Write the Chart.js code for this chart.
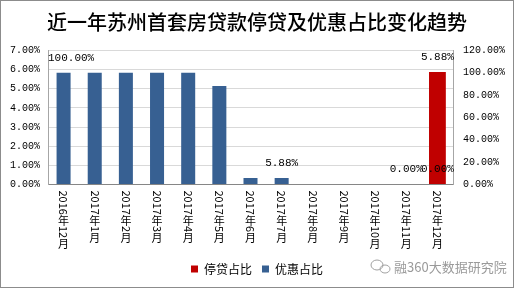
<!DOCTYPE html>
<html>
<head>
<meta charset="utf-8">
<script src="https://cdn.jsdelivr.net/npm/chart.js@4"></script>
<style>body{margin:0;background:#fff}</style>
</head>
<body>
<canvas id="c" width="514" height="288"></canvas>
<script>
const months = ['2016年12月','2017年1月','2017年2月','2017年3月','2017年4月','2017年5月','2017年6月','2017年7月','2017年8月','2017年9月','2017年10月','2017年11月','2017年12月']
// 停贷占比 (left axis)
const stopShare = [null,null,null,null,null,null,null,null,null,null,null,null,5.88]
// 优惠占比 (right axis)
const discountShare = [100,100,100,100,100,88.24,5.88,5.88,0,0,0,0,0]
// which bars carry a value label
const stopLabelAt = [12]
const discountLabelAt = [0,7,11,12]
const leftTicks = [0,1,2,3,4,5,6,7]
const rightTicks = [0,20,40,60,80,100,120]

const monoFont = '"Liberation Mono", "DejaVu Sans Mono", monospace'
const cjkFont = '"Noto Sans CJK SC", sans-serif'

// x labels: digits turned sideways, CJK upright (like the original)
const xLabels = {
  id: 'xLabels',
  afterDraw(chart) {
    const ctx = chart.ctx, xs = chart.scales.x
    ctx.save()
    ctx.fillStyle = '#000'
    ctx.font = '11px ' + cjkFont
    months.forEach((m, i) => {
      let x = xs.getPixelForValue(i), y = chart.chartArea.bottom + 6
      for (const ch of m) {
        if (ch.charCodeAt(0) > 0x2e80) {
          ctx.textAlign = 'center'; ctx.textBaseline = 'top'
          ctx.fillText(ch, x, y)
          y += 11
        } else {
          const w = ctx.measureText(ch).width
          ctx.save()
          ctx.translate(x, y); ctx.rotate(Math.PI / 2)
          ctx.textAlign = 'left'; ctx.textBaseline = 'middle'
          ctx.fillText(ch, 0, 0)
          ctx.restore()
          y += w
        }
      }
    })
    ctx.restore()
  }
}

const barLabels = {
  id: 'barLabels',
  afterDatasetsDraw(chart) {
    const ctx = chart.ctx, a = chart.chartArea
    ctx.save()
    ctx.font = '11px ' + monoFont
    ctx.fillStyle = '#000'
    ctx.textBaseline = 'middle'; ctx.textAlign = 'left'
    chart.data.datasets.forEach((ds, di) => {
      const meta = chart.getDatasetMeta(di)
      ds.labelAt.forEach(i => {
        const bar = meta.data[i]
        const t = ds.data[i].toFixed(2) + '%'
        const w = ctx.measureText(t).width
        const x = Math.max(a.left, bar.x - w / 2)
        ctx.fillText(t, x, bar.y - 15)
      })
    })
    ctx.restore()
  }
}

const frame = {
  id: 'frame',
  afterDraw(chart) {
    const ctx = chart.ctx
    ctx.save()
    // watermark bottom right
    ctx.strokeStyle = '#a0a0a0'; ctx.lineWidth = 1
    ctx.beginPath(); ctx.ellipse(377, 265, 6, 5, 0, 0, Math.PI * 2); ctx.stroke()
    ctx.beginPath(); ctx.ellipse(385, 269, 5, 4, 0, 0, Math.PI * 2); ctx.stroke()
    ctx.fillStyle = '#9a9a9a'
    ctx.font = '13px ' + cjkFont
    ctx.textBaseline = 'middle'; ctx.textAlign = 'left'
    ctx.fillText('融360大数据研究院', 394, 267)
    // outer border
    ctx.strokeStyle = '#8c8c8c'
    ctx.strokeRect(0.5, 0.5, 513, 287)
    ctx.restore()
  }
}

new Chart(document.getElementById('c'), {
  type: 'bar',
  data: {
    labels: months,
    datasets: [{
      label: '停贷占比',
      data: stopShare,
      labelAt: stopLabelAt,
      yAxisID: 'y',
      backgroundColor: '#c00000',
      barPercentage: 0.54,
      categoryPercentage: 1,
      grouped: false
    }, {
      label: '优惠占比',
      data: discountShare,
      labelAt: discountLabelAt,
      yAxisID: 'y1',
      backgroundColor: '#376092',
      barPercentage: 0.45,
      categoryPercentage: 1,
      grouped: false
    }]
  },
  options: {
    responsive: false,
    animation: false,
    layout: { padding: { left: 0, right: 0, top: 0, bottom: 3 } },
    plugins: {
      title: {
        display: true,
        text: '近一年苏州首套房贷款停贷及优惠占比变化趋势',
        color: '#000',
        font: { size: 20, weight: '500', family: cjkFont },
        padding: { top: 10, bottom: 16.5 }
      },
      legend: {
        position: 'bottom',
        labels: {
          boxWidth: 7, boxHeight: 7, padding: 10, color: '#000',
          font: { size: 12, family: cjkFont }
        }
      },
      tooltip: { enabled: false }
    },
    scales: {
      x: {
        ticks: { display: false },
        grid: { display: false },
        border: { color: '#868686' },
        afterFit(s) { s.height = 68.5 }
      },
      y: {
        position: 'left',
        min: 0, max: 7,
        afterBuildTicks(s) { s.ticks = leftTicks.map(v => ({ value: v })) },
        ticks: { color: '#000', padding: 8, font: { size: 10, family: monoFont }, callback: v => v.toFixed(2) + '%' },
        grid: { color: '#d9d9d9', drawTicks: false },
        border: { color: '#a6a6a6' },
        afterFit(s) { s.width = 48 }
      },
      y1: {
        position: 'right',
        min: 0, max: 120,
        afterBuildTicks(s) { s.ticks = rightTicks.map(v => ({ value: v })) },
        ticks: { color: '#000', padding: 10, font: { size: 10, family: monoFont }, callback: v => v.toFixed(2) + '%' },
        grid: { drawOnChartArea: false, drawTicks: false },
        border: { color: '#a6a6a6' },
        afterFit(s) { s.width = 61 }
      }
    }
  },
  plugins: [xLabels, barLabels, frame]
})
</script>
</body>
</html>
